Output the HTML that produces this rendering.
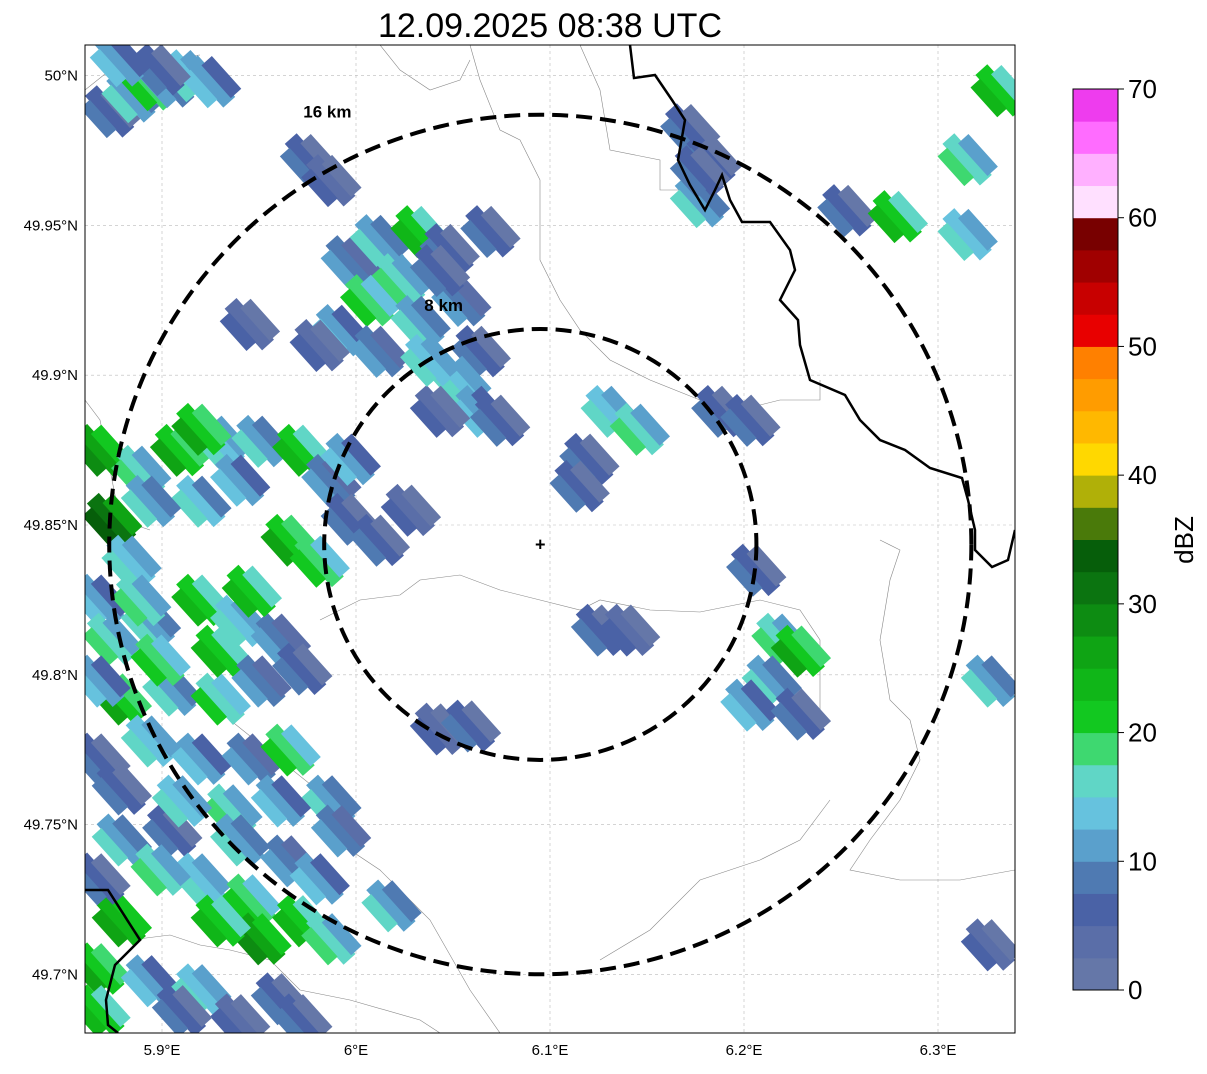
<!DOCTYPE html>
<html><head><meta charset="utf-8"><style>
body{margin:0;background:#fff;width:1207px;height:1069px;overflow:hidden;font-family:"Liberation Sans",sans-serif}
</style></head><body>
<svg id="chart" width="1207" height="1069" xmlns="http://www.w3.org/2000/svg" font-family="Liberation Sans, sans-serif">
<text x="550" y="37" font-size="34" text-anchor="middle">12.09.2025 08:38 UTC</text>
<defs><clipPath id="mapclip"><rect x="85" y="45" width="930" height="988"/></clipPath></defs>
<g id="map" clip-path="url(#mapclip)"></g>
<rect x="85" y="45" width="930" height="988" fill="none" stroke="#000" stroke-width="1"/>
<g id="axes"></g>
<g id="cbar"></g>
</svg>
<script>
const latTicks=[50.0,49.95,49.9,49.85,49.8,49.75,49.7];
const latLabels=["50°N","49.95°N","49.9°N","49.85°N","49.8°N","49.75°N","49.7°N"];
const lonTicks=[5.9,6.0,6.1,6.2,6.3];
const lonLabels=["5.9°E","6°E","6.1°E","6.2°E","6.3°E"];
const cbTicks=[0,10,20,30,40,50,60,70];
const cbColors=["#6577a8","#5a6ea8","#4a62a6","#4f7ab2","#5aa0cc","#66c2de","#60d6c6","#3ed870","#12c820","#10b618","#0fa414","#0d8c12","#0b7410","#065e0a","#4a7a0a","#b0b008","#ffd800","#ffb800","#ff9c00","#ff8000","#e80000","#c80000","#a00000","#780000","#ffe0ff","#ffb0ff","#ff6cff","#ee3cee"];
const radarLon=6.095, radarLat=49.8435;
const ringKm=[8,16];
const ringRadLon=[0.1114,0.2222];
const cellLon=[5.873,5.884,5.894,5.904,5.914,5.925,5.899,5.976,5.987,5.997,6.012,6.033,6.048,6.023,6.007,5.992,5.981,6.033,6.054,6.064,6.054,6.064,6.043,6.074,5.945,6.069,5.868,5.889,5.909,5.930,5.951,5.972,5.940,5.920,5.987,5.997,6.012,5.966,5.981,6.028,5.874,5.884,5.868,5.874,5.894,5.920,5.940,5.961,5.972,5.879,5.905,5.930,5.868,5.894,5.920,5.946,5.966,5.987,5.961,5.936,5.905,5.879,5.992,5.920,5.946,5.972,5.987,5.951,5.879,5.868,5.894,5.920,5.961,5.940,5.868,6.018,6.043,6.059,6.131,6.146,6.120,6.115,6.126,6.141,6.188,6.203,6.206,6.219,6.229,6.214,6.203,6.229,6.172,6.183,6.177,6.253,6.279,6.315,6.315,6.332,6.327,6.327,
5.868,5.899,5.930,5.951,5.879,5.910,5.940,5.966,5.899,5.930,5.868,5.981,5.910,5.972,5.889,5.946,5.997,5.920,5.894,6.043,6.012,6.038,5.878,6.177];
const cellLat=[49.988,49.993,49.997,49.998,50.000,49.998,50.002,49.972,49.965,49.938,49.945,49.948,49.942,49.932,49.925,49.915,49.910,49.918,49.925,49.908,49.898,49.888,49.888,49.885,49.917,49.948,49.875,49.868,49.875,49.878,49.878,49.875,49.865,49.858,49.865,49.852,49.845,49.845,49.838,49.855,49.852,49.838,49.825,49.812,49.818,49.825,49.818,49.812,49.802,49.792,49.795,49.792,49.772,49.778,49.772,49.772,49.775,49.758,49.758,49.755,49.748,49.745,49.748,49.732,49.725,49.718,49.712,49.712,49.718,49.702,49.698,49.695,49.692,49.685,49.688,49.723,49.782,49.783,49.888,49.882,49.872,49.863,49.815,49.815,49.888,49.885,49.835,49.812,49.808,49.798,49.790,49.787,49.982,49.972,49.958,49.955,49.953,49.947,49.972,49.995,49.798,49.710,
49.798,49.805,49.808,49.798,49.762,49.758,49.745,49.738,49.735,49.718,49.732,49.732,49.688,49.685,49.825,49.828,49.872,49.882,49.858,49.935,49.908,49.905,50.005,49.968];
const cellDbz=[6,12,18,8,14,10,5,5,3,8,12,20,6,15,18,10,4,12,8,6,14,10,3,5,4,6,25,15,22,14,12,20,10,13,8,6,5,22,18,4,30,14,10,15,12,21,14,8,6,22,12,17,6,14,10,8,18,12,10,16,6,12,8,14,18,20,15,26,24,22,10,14,6,4,20,12,4,6,14,16,6,5,5,4,6,5,5,16,22,12,10,6,6,5,12,6,20,14,15,21,12,4,
10,18,20,8,6,14,12,8,16,20,6,10,6,5,16,20,10,22,12,6,8,14,10,5];
const X=lon=>356+(lon-6.0)*1940;
const Y=lat=>525-(lat-49.85)*2997;
const NS="http://www.w3.org/2000/svg";
function mk(tag,attrs,parent){const e=document.createElementNS(NS,tag);for(const k in attrs)e.setAttribute(k,attrs[k]);parent.appendChild(e);return e;}
function col(v){return cbColors[Math.max(0,Math.min(27,Math.floor(v/2.5)))];}
const map=document.getElementById('map'), axes=document.getElementById('axes'), cbar=document.getElementById('cbar');
latTicks.forEach(t=>{const l=mk('line',{x1:85,x2:1015,y1:Y(t),y2:Y(t),stroke:'#bbb','stroke-width':0.6,'stroke-dasharray':'3,3'},map);

});
lonTicks.forEach(t=>{const l=mk('line',{y1:45,y2:1033,x1:X(t),x2:X(t),stroke:'#bbb','stroke-width':0.6,'stroke-dasharray':'3,3'},map);

});
const grayPaths=["M85,400 L100,420 L110,470 L120,520 L150,530","M320,620 L360,600 L400,595 L420,580 L460,575 L500,590 L540,600 L580,610 L600,600 L650,610 L700,612 L760,600 L800,610 L820,640 L820,720","M470,45 L480,80 L500,130 L520,140 L540,180 L540,260 L560,300 L580,330 L610,360 L650,380 L700,400 L740,410 L780,400 L820,400 L820,380","M580,45 L600,90 L610,150 L660,160 L660,190 L700,190","M230,720 L280,760 L330,800 L350,850 L380,870 L430,920 L470,990 L500,1033","M880,540 L900,550 L890,580 L880,640 L890,700 L910,720 L920,760 L900,800 L870,840 L850,870 L900,880 L960,880 L1015,870","M130,940 L170,935 L200,945 L230,950 L270,960 L300,990 L350,1000 L420,1020 L440,1033","M600,960 L650,930 L700,880 L760,860 L800,840 L830,800","M85,90 L110,70 L150,60 L200,55","M380,45 L400,70 L430,90 L460,80 L470,60"];
grayPaths.forEach(d=>{const p=mk('path',{d:d,fill:'none',stroke:'#888','stroke-width':0.6},map);

});
cellLon.forEach((lon,i)=>{const cx=X(lon),cy=Y(cellLat[i]);const ang=-42;
const r=mk('rect',{x:cx-8,y:cy-28,width:16,height:56,fill:col(cellDbz[i]),transform:`rotate(${ang} ${cx} ${cy})`},map);


const r2=mk('rect',{x:cx+4,y:cy-18,width:14,height:44,fill:col(Math.max(0,cellDbz[i]-4)),transform:`rotate(${ang} ${cx} ${cy})`},map);


const r3=mk('rect',{x:cx-20,y:cy-22,width:13,height:40,fill:col(cellDbz[i]+3),transform:`rotate(${ang} ${cx} ${cy})`},map);

});
const bb=["M630,45 L634,78 L655,75 L672,100 L685,120 L678,160 L690,185 L705,210 L715,190 L722,175 L730,200 L742,222 L770,222 L790,250 L795,270 L780,300 L798,320 L800,345 L810,380 L845,395 L860,420 L880,440 L905,450 L930,468 L962,478 L968,500 L975,530 L975,550 L992,567 L1008,560 L1015,530","M85,890 L108,890 L140,940 L115,965 L106,1000 L108,1025 L118,1033"];
bb.forEach(d=>{const p=mk('path',{d:d,fill:'none',stroke:'#000','stroke-width':2.5},map);

});
ringRadLon.forEach((r,i)=>{const rx=r*1940, ry=rx*0.997;
const e=mk('ellipse',{cx:X(radarLon),cy:Y(radarLat),rx:rx,ry:ry,fill:'none',stroke:'#000','stroke-width':4,'stroke-dasharray':'16,8'},map);


const t=mk('text',{x:X(radarLon)-(i?237:116),y:Y(radarLat)-ry-(i?-3:18),'font-size':17,'font-weight':'bold'},map);t.textContent=ringKm[i]+' km';

});
const mkr=mk('text',{x:X(radarLon),y:Y(radarLat)+6,'font-size':18,'font-weight':'bold','text-anchor':'middle'},map);mkr.textContent='+';


latTicks.forEach((t,i)=>{const e=mk('text',{x:78,y:Y(t)+5,'font-size':15,'text-anchor':'end'},axes);e.textContent=latLabels[i];

});
lonTicks.forEach((t,i)=>{const e=mk('text',{x:X(t),y:1055,'font-size':15,'text-anchor':'middle'},axes);e.textContent=lonLabels[i];

});
const cbTop=89,cbBot=990,cbH=(cbBot-cbTop)/28;
cbColors.forEach((c,i)=>{const r=mk('rect',{x:1073,y:cbBot-(i+1)*cbH,width:45,height:cbH+0.5,fill:c},cbar);

});
const fr=mk('rect',{x:1073,y:cbTop,width:45,height:cbBot-cbTop,fill:'none',stroke:'#000','stroke-width':1},cbar);


cbTicks.forEach(v=>{const y=cbBot-v/70*(cbBot-cbTop);mk('line',{x1:1118,x2:1124,y1:y,y2:y,stroke:'#000'},cbar);
const t=mk('text',{x:1128,y:y+9,'font-size':26},cbar);t.textContent=v;

});
const lab=mk('text',{x:1193,y:540,'font-size':26,'text-anchor':'middle',transform:'rotate(-90 1193 540)'},cbar);lab.textContent='dBZ';


</script>
</body></html>
